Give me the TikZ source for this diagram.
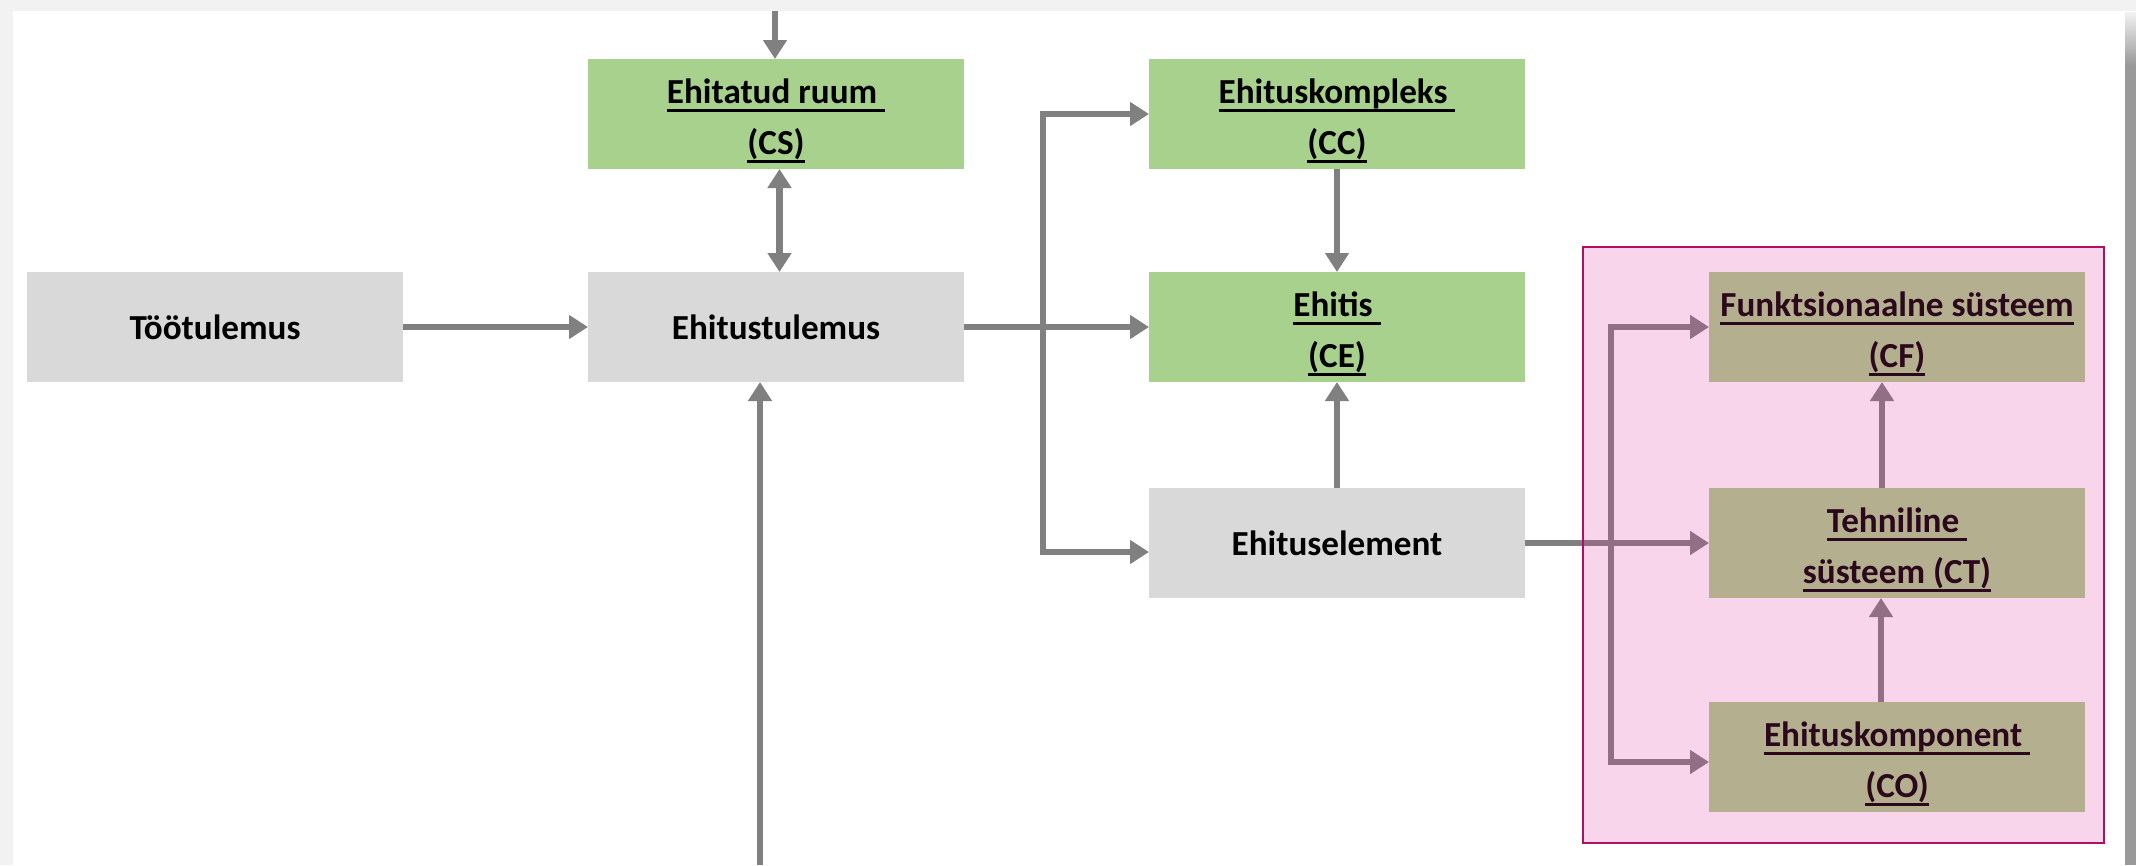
\documentclass[tikz,border=0pt]{standalone}
\usepackage{fontspec}
\setmainfont{Carlito}
\usetikzlibrary{arrows.meta,positioning}

\definecolor{boxgray}{RGB}{217,217,217}
\definecolor{boxgreen}{RGB}{169,209,142}
\definecolor{linegray}{RGB}{128,128,128}
\definecolor{groupfill}{RGB}{220,43,149}
\definecolor{groupline}{RGB}{175,15,100}
\definecolor{edgegray}{RGB}{242,242,242}
\definecolor{shadowgray}{RGB}{153,153,153}

\newcommand\lnk[1]{\setbox0\hbox{#1}\rlap{\rule[-0.23em]{\wd0}{0.075em}}\box0}
\newcommand\twoline[2]{\rule{0pt}{0.39cm}\lnk{#1}\\\lnk{#2}}

\begin{document}
\begin{tikzpicture}[>={Triangle[width=0.23cm,length=0.19cm]},line width=0.065cm,
                font=\fontsize{10pt}{14.5pt}\selectfont\bfseries,
                base node/.style={rectangle,minimum width=3.76cm,minimum height=1.10cm,inner sep=0pt,outer sep=0pt,align=center},
                gray node/.style={base node,fill=boxgray},
                green node/.style={base node,fill=boxgreen},
                conn/.style={->,draw=linegray}]

  \useasboundingbox (0,0) rectangle (21.36,-8.65);
  \fill[edgegray] (0,0) rectangle (21.36,-0.11);
  \fill[edgegray] (0,0) rectangle (0.13,-8.65);
  \shade[top color=edgegray,bottom color=shadowgray] (21.25,-0.12) rectangle (21.36,-0.65);
  \fill[shadowgray] (21.25,-0.65) rectangle (21.36,-8.65);

  \node[gray node] (1) at (2.15,-3.27) {Töötulemus};
  \node[gray node] (2) [right=1.85cm of 1] {Ehitustulemus};
  \node[green node] (3) [above=1.03cm of 2] {\twoline{Ehitatud ruum\ }{(CS)}};
  \node[green node] (4) [right=1.85cm of 3] {\twoline{Ehituskompleks\ }{(CC)}};
  \node[green node] (5) [below=1.03cm of 4] {\twoline{Ehitis\ }{(CE)}};
  \node[gray node] (6) [below=1.06cm of 5] {Ehituselement};
  \node[green node] (7) [right=1.84cm of 6] {\twoline{Tehniline\ }{süsteem (CT)}};
  \node[green node] (8) [above=1.06cm of 7] {\twoline{Funktsionaalne süsteem}{(CF)}};
  \node[green node] (9) [below=1.04cm of 7] {\twoline{Ehituskomponent\ }{(CO)}};

  \coordinate (top) at (7.75,-0.11);
  \coordinate (bottom) at (7.60,-8.65);
  \coordinate (j1) at (10.43,-3.27);
  \coordinate (j2) at (16.11,-5.43);

  \draw[conn] (top) -- (top |- 3.north);
  \draw[conn,<->] ([xshift=0.035cm]3.south) -- ([xshift=0.035cm]2.north);
  \draw[conn] (1) -- (2);
  \draw[conn] (bottom) -- (bottom |- 2.south);
  \draw[conn] (2) -- (5);
  \draw[conn] (j1) |- (4);
  \draw[conn] (j1) |- ([yshift=-0.09cm]6.west);
  \draw[conn] (4) -- (5);
  \draw[conn] (6) -- (5);
  \draw[conn] (6) -- (7);
  \draw[conn] (j2) |- (8);
  \draw[conn] (j2) |- ([yshift=-0.05cm]9.west);
  \draw[conn] ([xshift=-0.16cm]9.north) -- ([xshift=-0.16cm]7.south);
  \draw[conn] ([xshift=-0.15cm]7.north) -- ([xshift=-0.15cm]8.south);

  % pink group over the right column
  \draw[groupline,line width=0.025cm,fill=groupfill,fill opacity=0.2]
    ([shift={(-1.26,0.25)}]8.north west) rectangle ([shift={(0.19,-0.31)}]9.south east);

\end{tikzpicture}
\end{document}
